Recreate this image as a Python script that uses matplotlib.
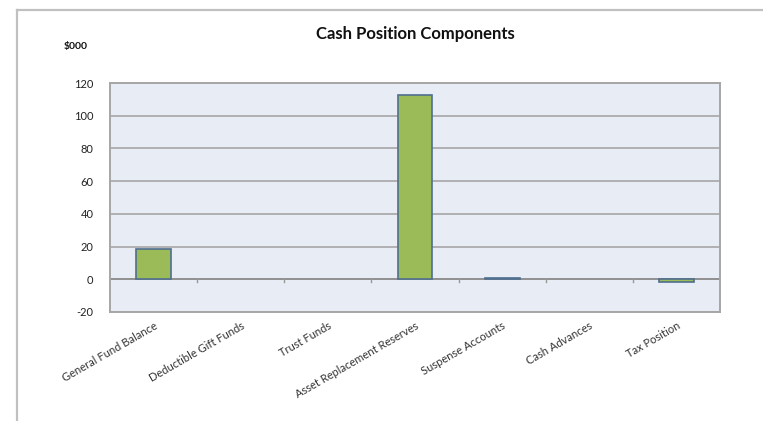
import matplotlib
matplotlib.use("Agg")
import numpy as np
from matplotlib import pyplot as plt
from matplotlib.lines import Line2D

plt.rcParams['font.family'] = ['Lato', 'DejaVu Sans']
plt.rcParams['axes.unicode_minus'] = False

categories = ['General Fund Balance', 'Deductible Gift Funds', 'Trust Funds',
              'Asset Replacement Reserves', 'Suspense Accounts', 'Cash Advances',
              'Tax Position']
values = [18.3, 0, 0, 112.4, 0.9, 0, -1.4]
y_ticks = [-20, 0, 20, 40, 60, 80, 100, 120]

fig = plt.figure(figsize=(7.63, 4.21), dpi=100)

# outer chart frame (only left and top edges visible)
fig.add_artist(Line2D([17 / 763, 17 / 763], [0, 1 - 10 / 421], transform=fig.transFigure,
                      color='#c0c0c0', lw=1.6))
fig.add_artist(Line2D([17 / 763, 1], [1 - 10 / 421, 1 - 10 / 421], transform=fig.transFigure,
                      color='#c0c0c0', lw=1.6))

ax = fig.add_axes([110 / 763, 1 - 312 / 421, 610 / 763, 229 / 421])
ax.set_facecolor('#e8ecf4')

x = np.arange(len(categories))
edges = ['#4f6f8f' if v != 0 else 'none' for v in values]
ax.bar(x, values, width=0.4, color='#9bbb59', edgecolor=edges, linewidth=1.2, zorder=3)

ax.set_xlim(-0.5, len(categories) - 0.5)
ax.set_ylim(-20, 120)
ax.set_yticks(y_ticks)
ax.yaxis.grid(True, color='#a6a6a6', lw=1.2, zorder=1)
ax.set_axisbelow(True)
ax.tick_params(axis='y', length=0, pad=12, labelsize=8, labelcolor='#222222')
ax.axhline(0, color='#8c8c8c', lw=1.2, zorder=2)

# category boundary ticks on the zero line
for b in np.arange(0.5, len(categories) - 0.5, 1):
    ax.plot([b, b], [0, -1.6], color='#9a9a9a', lw=1, zorder=2)

ax.set_xticks(x)
ax.set_xticklabels(categories, rotation=30, ha='right', rotation_mode='anchor',
                   fontsize=8, color='#333333')
ax.tick_params(axis='x', length=0, pad=6)

for s in ax.spines.values():
    s.set_color('#a6a6a6')
    s.set_linewidth(1.4)

fig.text(415 / 763, 1 - 34 / 421, 'Cash Position Components', ha='center', va='center',
         fontsize=12, fontweight='bold', color='#111111')
fig.text(76 / 763, 1 - 47 / 421, '$000', ha='center', va='center',
         fontsize=7.5, fontweight='bold', color='#111111')

fig.savefig('out.png', dpi=100)
